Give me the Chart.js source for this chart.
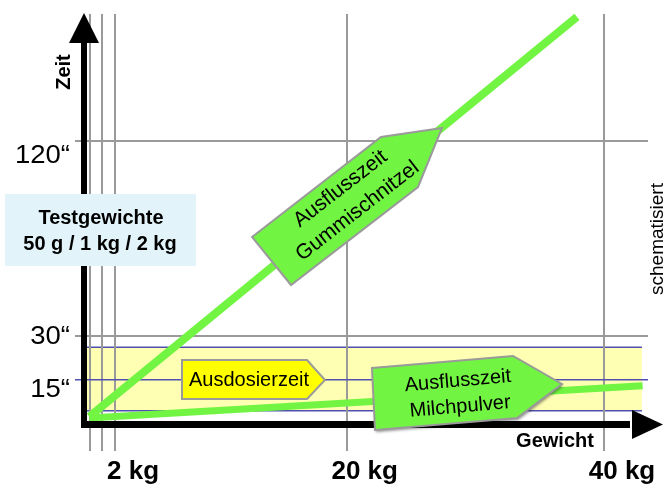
<!DOCTYPE html>
<html lang="de">
<head>
<meta charset="utf-8">
<script src="https://cdn.jsdelivr.net/npm/chart.js@4/dist/chart.umd.min.js"></script>
<style>
  html, body { margin: 0; padding: 0; background: #fff; }
</style>
</head>
<body>
<canvas id="grafico" width="671" height="492"></canvas>
<script>
// Daten (schematisch): Gewicht in kg, Zeit in Sekunden
const gewichtGummi = [0, 37.9];
const zeitGummi = [2.5, 138];
const gewichtMilch = [0, 43];
const zeitMilch = [2, 13];

const gewichtTicks = [0.05, 1, 2, 20, 40];
const gewichtTickLabels = ['', '', '2 kg', '20 kg', '40 kg'];
const zeitTicks = [15, 30, 96];
const zeitTickLabels = ['15“', '30“', '120“'];

const dosierBandZeit = [4.5, 26];
const dosierBandGewicht = [-0.2, 42.95];

const gruen = '#72f442';
const grau = '#9a9a9a';
const blau = '#5050b0';
const schrift = '"Liberation Sans", Arial, sans-serif';

function punkte(xs, ys) {
  return xs.map((x, i) => ({ x: x, y: ys[i] }));
}

function vieleck(ctx, pts, fill, stroke) {
  ctx.beginPath();
  pts.forEach((p, i) => i ? ctx.lineTo(p[0], p[1]) : ctx.moveTo(p[0], p[1]));
  ctx.closePath();
  ctx.fillStyle = fill;
  ctx.fill();
  ctx.shadowColor = 'transparent';
  ctx.strokeStyle = stroke;
  ctx.lineWidth = 2;
  ctx.stroke();
}

const zeichnung = {
  id: 'zeichnung',
  beforeDraw(chart) {
    const ctx = chart.ctx, xs = chart.scales.x, ys = chart.scales.y;
    const x0 = xs.getPixelForValue(dosierBandGewicht[0]);
    const x1 = xs.getPixelForValue(dosierBandGewicht[1]);
    const yOben = ys.getPixelForValue(dosierBandZeit[1]);
    const yUnten = ys.getPixelForValue(dosierBandZeit[0]);
    ctx.save();
    ctx.fillStyle = '#ffffb4';
    ctx.fillRect(x0, yOben, x1 - x0, yUnten - yOben);
    ctx.strokeStyle = blau;
    ctx.lineWidth = 1.5;
    [yOben, yUnten].forEach(y => {
      ctx.beginPath();
      ctx.moveTo(chart.chartArea.left, y);
      ctx.lineTo(x1, y);
      ctx.stroke();
    });
    ctx.restore();
  },
  afterDraw(chart) {
    const ctx = chart.ctx, ys = chart.scales.y;
    const a = chart.chartArea;
    ctx.save();

    // Achsenpfeile
    ctx.fillStyle = '#000';
    ctx.fillRect(a.left - 3, 42, 6, a.bottom - 42 + 4);
    ctx.beginPath();
    ctx.moveTo(a.left - 15, 43); ctx.lineTo(a.left + 15, 43); ctx.lineTo(a.left, 13);
    ctx.closePath(); ctx.fill();
    ctx.fillRect(a.left - 3, a.bottom - 3, 633 - a.left, 7);
    ctx.beginPath();
    ctx.moveTo(632, a.bottom - 14); ctx.lineTo(632, a.bottom + 15); ctx.lineTo(663, a.bottom + 0.5);
    ctx.closePath(); ctx.fill();

    // Zeit-Beschriftungen
    const versatz = { 15: 17, 30: 8.5, 96: 22 };
    ctx.font = '25px ' + schrift;
    ctx.textAlign = 'right';
    ctx.textBaseline = 'alphabetic';
    zeitTicks.forEach((v, i) => {
      ctx.save();
      ctx.translate(70, ys.getPixelForValue(v) + versatz[v]);
      ctx.scale(1.1, 1);
      ctx.fillText(zeitTickLabels[i], 0, 0);
      ctx.restore();
    });

    ctx.textAlign = 'center';
    ctx.font = 'bold 20px ' + schrift;
    ctx.save();
    ctx.translate(70, 72);
    ctx.rotate(-Math.PI / 2);
    ctx.fillText('Zeit', 0, 0);
    ctx.restore();

    ctx.fillText('Gewicht', 555, 447);

    ctx.font = '19px ' + schrift;
    ctx.save();
    ctx.translate(663, 239);
    ctx.rotate(-Math.PI / 2);
    ctx.fillText('schematisiert', 0, 0);
    ctx.restore();

    // Testgewichte
    ctx.fillStyle = '#e2f4f9';
    ctx.fillRect(5, 194, 191, 72);
    ctx.fillStyle = '#000';
    ctx.font = 'bold 20px ' + schrift;
    ctx.fillText('Testgewichte', 101, 224);
    ctx.fillText('50 g / 1 kg / 2 kg', 100, 250);

    // Ausdosierzeit
    vieleck(ctx, [[182, 360], [307, 360], [325, 380], [307, 399], [182, 399]], '#ffff00', grau);
    ctx.fillStyle = '#000';
    ctx.font = '20px ' + schrift;
    ctx.textBaseline = 'middle';
    ctx.fillText('Ausdosierzeit', 249, 380);

    // Ausflusszeit Milchpulver
    ctx.save();
    ctx.shadowColor = 'rgba(0,0,0,0.45)';
    ctx.shadowBlur = 3;
    ctx.shadowOffsetX = 1;
    ctx.shadowOffsetY = 2;
    vieleck(ctx, [[372, 368], [513, 356], [562, 384], [517, 418], [375, 430]], gruen, grau);
    ctx.restore();
    ctx.save();
    ctx.fillStyle = '#000';
    ctx.translate(459, 393);
    ctx.rotate(-5 * Math.PI / 180);
    ctx.fillText('Ausflusszeit', 0, -12);
    ctx.fillText('Milchpulver', 0, 14);
    ctx.restore();

    // Ausflusszeit Gummischnitzel
    vieleck(ctx, [[252, 237], [381, 137], [442, 128], [418, 187], [291, 285]], gruen, grau);
    ctx.save();
    ctx.fillStyle = '#000';
    ctx.font = '21px ' + schrift;
    ctx.translate(349, 200);
    ctx.rotate(-37.8 * Math.PI / 180);
    ctx.fillText('Ausflusszeit', 0, -14);
    ctx.fillText('Gummischnitzel', 0, 14);
    ctx.restore();

    ctx.restore();
  }
};

new Chart(document.getElementById('grafico').getContext('2d'), {
  type: 'line',
  data: {
    datasets: [
      {
        label: 'Ausflusszeit Gummischnitzel',
        data: punkte(gewichtGummi, zeitGummi),
        borderColor: gruen,
        borderWidth: 8,
        borderCapStyle: 'butt',
        pointRadius: 0,
        clip: false
      },
      {
        label: 'Ausflusszeit Milchpulver',
        data: punkte(gewichtMilch, zeitMilch),
        borderColor: gruen,
        borderWidth: 7,
        borderCapStyle: 'butt',
        pointRadius: 0,
        clip: false
      }
    ]
  },
  options: {
    responsive: false,
    animation: false,
    layout: { padding: { top: 14, right: 23, left: 0, bottom: 0 } },
    scales: {
      x: {
        type: 'linear',
        min: -0.42,
        max: 43.42,
        afterFit: s => { s.height = 68; },
        afterBuildTicks: s => { s.ticks = gewichtTicks.map(v => ({ value: v })); },
        grid: { color: grau, lineWidth: 2, tickLength: 27 },
        border: { display: false },
        ticks: {
          autoSkip: false,
          maxRotation: 0,
          labelOffset: 18,
          padding: 5,
          color: '#000',
          font: { family: schrift, size: 26, weight: 'bold' },
          callback: (v, i) => gewichtTickLabels[i]
        }
      },
      y: {
        type: 'linear',
        min: 0,
        max: 139,
        afterFit: s => { s.width = 84; },
        afterBuildTicks: s => { s.ticks = zeitTicks.map(v => ({ value: v })); },
        grid: {
          color: c => (c.tick && c.tick.value === 15) ? blau : grau,
          lineWidth: c => (c.tick && c.tick.value === 15) ? 1.5 : 2,
          tickLength: 9
        },
        border: { display: false },
        ticks: { display: false }
      }
    },
    plugins: {
      legend: { display: false },
      tooltip: { enabled: false }
    }
  },
  plugins: [zeichnung]
});
</script>
</body>
</html>
